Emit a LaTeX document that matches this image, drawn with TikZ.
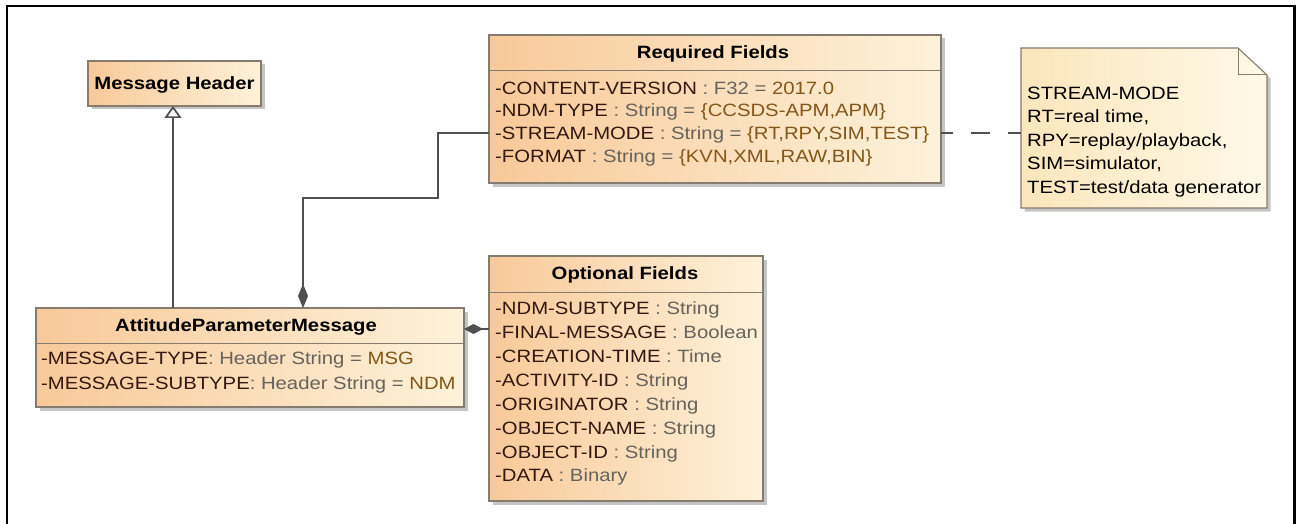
\documentclass[tikz,border=0pt]{standalone}
\usepackage{fontspec}
\setmainfont{Liberation Sans}
\usetikzlibrary{arrows.meta,shadows}
\definecolor{uOr}{HTML}{F8C999}
\definecolor{uPa}{HTML}{FDF2DA}
\definecolor{nOr}{HTML}{FBE6BC}
\definecolor{nPa}{HTML}{FEF9E8}
\definecolor{bord}{HTML}{857B6E}
\definecolor{lineC}{HTML}{505050}
\definecolor{cName}{HTML}{321810}
\definecolor{cType}{HTML}{66625C}
\definecolor{cVal}{HTML}{85561A}
\newcommand\hsx[1]{\scalebox{1.14}[1]{#1}}
\newcommand\attrline[3]{{\color{cName}#1}{\color{cType}#2}{\color{cVal}#3}}
\begin{document}
\begin{tikzpicture}[x=1pt,y=-1pt,
  umlbox/.style={draw=bord,line width=1.1pt,left color=uOr,right color=uPa,anchor=north west,
    inner sep=0pt,outer sep=0pt,
    drop shadow={shadow xshift=3.5pt,shadow yshift=-3.5pt,fill=black!45,opacity=0.5}},
  notebox/.style={draw=bord,line width=1.1pt,left color=nOr,right color=nPa,
    drop shadow={shadow xshift=3.5pt,shadow yshift=-3.5pt,fill=black!45,opacity=0.5}},
  holder/.style={anchor=north west,inner sep=0pt,outer sep=0pt},
  sepline/.style={draw=bord,line width=1pt},
  ttl/.style={font=\fontsize{17.8}{20}\selectfont\bfseries,text height=12.7pt,text depth=0pt,inner sep=0pt},
  attr/.style={font=\fontsize{17.8}{20}\selectfont,text height=12.7pt,text depth=0pt,inner sep=0pt,anchor=west},
  notetxt/.style={font=\fontsize{17.8}{20}\selectfont,text height=12.7pt,text depth=0pt,inner sep=0pt,anchor=west},
  conn/.style={draw=lineC,line width=1.7pt},
  gen/.style={conn,-{Triangle[open,length=12pt,width=17pt,fill=white]}},
  comp/.style={conn,{Diamond[length=#1,width=10pt]}-},
  anchorline/.style={conn,dash pattern=on 19pt off 18pt,dash phase=7pt}
]
\useasboundingbox (0,0) rectangle (1297,524);
\fill[white] (0,0) rectangle (1297,524);
% frame
\draw[line width=2.2pt,line join=miter] (7,540) -- (7,6.3) -- (1294.5,6.3) -- (1294.5,540);

% boxes
\node[umlbox,minimum width=173pt,minimum height=45pt] (mh) at (88,61) {};
\node[umlbox,minimum width=452pt,minimum height=148pt] (req) at (489,35) {};
\node[umlbox,minimum width=428pt,minimum height=99pt] (att) at (36,308) {};
\node[umlbox,minimum width=274pt,minimum height=245pt] (opt) at (489,256) {};
\node[holder,minimum width=246pt,minimum height=160pt] (note) at (1021,48) {};
\draw[notebox] (note.north west) -- ++(217,0) -- (note.north east |- 0,75) -- (note.south east) -- (note.south west) -- cycle;
\draw[sepline] ([xshift=-29pt]note.north east) -- ++(0,27) -- (note.north east |- 0,75);

% compartment separators
\draw[sepline] ([yshift=-36pt]req.north west) -- ([yshift=-36pt]req.north east);
\draw[sepline] ([yshift=-35pt]att.north west) -- ([yshift=-35pt]att.north east);
\draw[sepline] ([yshift=-36pt]opt.north west) -- ([yshift=-36pt]opt.north east);

% titles
\node[ttl] (mhT) at (174.5,83.5) {\hsx{Message Header}};
\node[ttl] (reqT) at (713,52) {\hsx{Required Fields}};
\node[ttl] (attT) at (246,325) {\hsx{AttitudeParameterMessage}};
\node[ttl] (optT) at (625,273.3) {\hsx{Optional Fields}};

% required attributes
\node[attr] (r1) at (495,87.7) {\hsx{\attrline{-CONTENT-VERSION}{\ : F32 = }{2017.0}}};
\node[attr] (r2) at (495,110.3) {\hsx{\attrline{-NDM-TYPE}{\ : String = }{\{CCSDS-APM,APM\}}}};
\node[attr] (sm) at (495,133) {\hsx{\attrline{-STREAM-MODE}{\ : String = }{\{RT,RPY,SIM,TEST\}}}};
\node[attr] (r4) at (495,156.3) {\hsx{\attrline{-FORMAT}{\ : String = }{\{KVN,XML,RAW,BIN\}}}};

% attitude attributes
\node[attr] (a1) at (41,358.3) {\hsx{\attrline{-MESSAGE-TYPE}{: Header String = }{MSG}}};
\node[attr] (a2) at (41,383.3) {\hsx{\attrline{-MESSAGE-SUBTYPE}{: Header String = }{NDM}}};

% optional attributes
\node[attr] (o1) at (495,308.3) {\hsx{\attrline{-NDM-SUBTYPE}{\ : String}{}}};
\node[attr] (o2) at (495,331.7) {\hsx{\attrline{-FINAL-MESSAGE}{\ : Boolean}{}}};
\node[attr] (o3) at (495,356) {\hsx{\attrline{-CREATION-TIME}{\ : Time}{}}};
\node[attr] (o4) at (495,380) {\hsx{\attrline{-ACTIVITY-ID}{\ : String}{}}};
\node[attr] (o5) at (495,404) {\hsx{\attrline{-ORIGINATOR}{\ : String}{}}};
\node[attr] (o6) at (495,428.3) {\hsx{\attrline{-OBJECT-NAME}{\ : String}{}}};
\node[attr] (o7) at (495,451.7) {\hsx{\attrline{-OBJECT-ID}{\ : String}{}}};
\node[attr] (o8) at (495,475.3) {\hsx{\attrline{-DATA}{\ : Binary}{}}};

% note text
\node[notetxt] (n1) at (1027,93) {\hsx{STREAM-MODE}};
\node[notetxt] (n2) at (1027,116.5) {\hsx{RT=real time,}};
\node[notetxt] (n3) at (1027,140) {\hsx{RPY=replay/playback,}};
\node[notetxt] (n4) at (1027,163.5) {\hsx{SIM=simulator,}};
\node[notetxt] (n5) at (1027,187) {\hsx{TEST=test/data generator}};

% connectors
\coordinate (genX) at (173,0);
\coordinate (bendA) at (438,198);
\coordinate (bendB) at (303,198);
\coordinate (rowR) at (0,329);
\draw[gen] (genX |- att.north) -- (genX |- mh.south);
\draw[comp=24pt] (bendB |- att.north) -- (bendB) -- (bendA) -- (bendA |- sm) -- (req.west |- sm);
\draw[comp=19pt] (att.east |- rowR) -- (opt.west |- rowR);
\draw[anchorline] (req.east |- sm) -- (note.west |- sm);
\end{tikzpicture}
\end{document}
